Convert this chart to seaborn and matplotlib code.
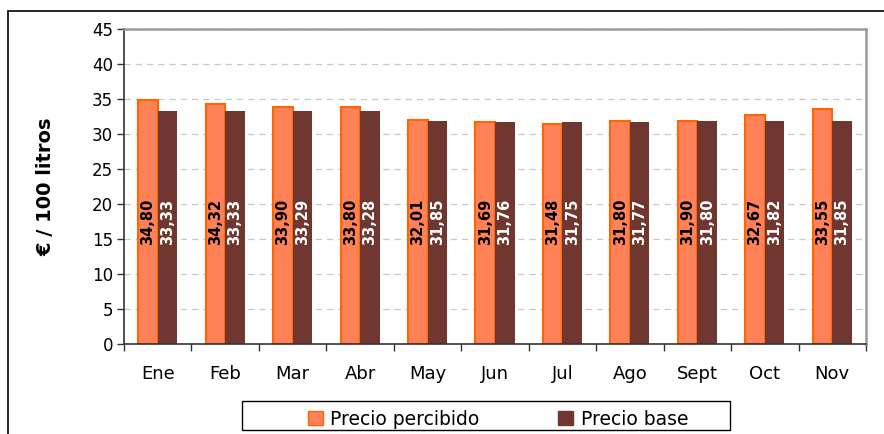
"""Precio percibido vs precio base de la leche, por mes."""

import matplotlib
matplotlib.use('Agg')
import matplotlib.pyplot as plt
import matplotlib.patches as mpatches
import pandas as pd
import seaborn as sns

# Data
meses = ['Ene', 'Feb', 'Mar', 'Abr', 'May', 'Jun', 'Jul', 'Ago', 'Sept', 'Oct', 'Nov']
precio_percibido = [34.80, 34.32, 33.90, 33.80, 32.01, 31.69, 31.48, 31.80, 31.90, 32.67, 33.55]
precio_base = [33.33, 33.33, 33.29, 33.28, 31.85, 31.76, 31.75, 31.77, 31.80, 31.82, 31.85]
series = ['Precio percibido', 'Precio base']

df = pd.concat([
    pd.DataFrame({'mes': meses, 'valor': precio_percibido, 'serie': series[0]}),
    pd.DataFrame({'mes': meses, 'valor': precio_base, 'serie': series[1]}),
])

sns.set_style('white', {'text.color': 'black', 'axes.labelcolor': 'black',
                        'xtick.color': 'black', 'ytick.color': 'black'})
plt.rcParams['font.family'] = ['DejaVu Sans']

fill_colors = {'Precio percibido': '#FF8157', 'Precio base': '#6F3730'}
edge_colors = {'Precio percibido': '#FF6600', 'Precio base': '#6F3730'}
label_colors = {'Precio percibido': 'black', 'Precio base': 'white'}

fig = plt.figure(figsize=(8.84, 4.34), dpi=100)
ax = fig.add_axes([0.1403, 0.2074, 0.8393, 0.7258])

sns.barplot(data=df, x='mes', y='valor', hue='serie', palette=fill_colors,
            width=0.58, gap=0, saturation=1, ax=ax, legend=False)

# Edge colours and value labels
for cont, name in zip(ax.containers, series):
    for patch in cont:
        patch.set_edgecolor(edge_colors[name])
        patch.set_linewidth(1.5 if name == series[0] else 0)
    vals = df[df['serie'] == name]['valor'].values
    for patch, v in zip(cont, vals):
        xc = patch.get_x() + patch.get_width() / 2
        ax.text(xc, 17.4, f'{v:.2f}'.replace('.', ','), rotation=90,
                ha='center', va='center', fontsize=10.5, fontweight='bold',
                color=label_colors[name])

# Axis formatting
ax.set_ylim(0, 45)
ax.set_xlim(-0.5, len(meses) - 0.5)
ax.set_yticks(range(0, 46, 5))
ax.yaxis.grid(True, linestyle=(0, (5, 4)), color='#C8C8C8', linewidth=0.9)
ax.set_axisbelow(True)
ax.tick_params(axis='y', labelsize=12, length=5, width=1, direction='out',
               left=True, color='#333333', pad=3)
ax.tick_params(axis='x', which='major', labelsize=13, length=0, pad=15)
ax.set_xticks([i - 0.5 for i in range(len(meses) + 1)], minor=True)
ax.tick_params(axis='x', which='minor', length=5, width=1, direction='out',
               bottom=True, color='#333333')
ax.set_xlabel('')
ax.set_ylabel('€ / 100 litros', fontsize=14, fontweight='bold', labelpad=26)

for side in ['left', 'bottom']:
    ax.spines[side].set_color('#333333')
    ax.spines[side].set_linewidth(1.2)
for side in ['top', 'right']:
    ax.spines[side].set_color('#9A9A9A')
    ax.spines[side].set_linewidth(1.8)
ax.spines['top'].set_linestyle((0, (5, 1)))

# Legend (frame drawn separately so it can be wider than its contents)
handles = [mpatches.Patch(facecolor=fill_colors[s], edgecolor=edge_colors[s], label=s)
           for s in series]
fig.legend(handles=handles, loc='center', bbox_to_anchor=(0.5635, 0.0345),
           ncol=2, fontsize=13.5, frameon=False,
           columnspacing=4.2, handlelength=0.8, handleheight=0.8,
           handletextpad=0.4, borderpad=0.1)
fig.patches.append(mpatches.Rectangle((242 / 884, 1 - 430 / 434), 488 / 884, 29 / 434,
                                      transform=fig.transFigure, fill=False,
                                      edgecolor='black', linewidth=1.0))

# Outer border of the chart
fig.patches.append(mpatches.Rectangle((0.0095, -0.1), 1.2, 1.0747, transform=fig.transFigure,
                                      fill=False, edgecolor='black', linewidth=1.2))

fig.savefig('out.png', dpi=100)
